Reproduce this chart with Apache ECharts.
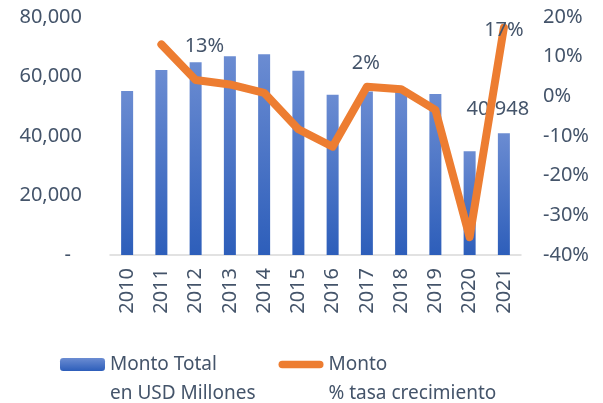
<!DOCTYPE html>
<html>
<head>
<meta charset="utf-8">
<script src="https://cdn.jsdelivr.net/npm/echarts@6/dist/echarts.min.js"></script>
<style>
  html, body { margin: 0; padding: 0; background: #fff; }
  #main { width: 603px; height: 403px; }
</style>
</head>
<body>
<div id="main"></div>
<script>
// datos del grafico
var anios = ['2010', '2011', '2012', '2013', '2014', '2015', '2016', '2017', '2018', '2019', '2020', '2021'];
var montos = [55100, 62200, 64800, 66800, 67500, 61900, 53900, 55000, 56100, 54100, 34900, 40948];
var tasa = [null, 13.1, 4.1, 3.0, 0.9, -8.3, -12.7, 2.4, 1.8, -3.4, -35.5, 17.3];

var colorTexto = '#44546A';
var fuente = 'Noto Sans';

// etiquetas que se ven en la imagen (indice -> desplazamiento)
var etiquetasLinea = { 1: [43, 2], 7: [-1, -24], 11: [0, 3] };

var datosLinea = tasa.map(function (v, i) {
  var off = etiquetasLinea[i];
  if (!off) return v;
  return {
    value: v,
    label: { show: true, position: 'inside', offset: off }
  };
});

var datosBarra = montos.map(function (v, i) {
  if (i !== montos.length - 1) return v;
  return { value: v, label: { show: true, position: 'top', distance: 5, offset: [-6, -9] } };
});

var nombreBarra = 'Monto Total\nen USD Millones';
var nombreLinea = 'Monto\n% tasa crecimiento';

var chart = echarts.init(document.getElementById('main'));

var option = {
  animation: false,
  grid: { left: 110, right: 82, top: 17, bottom: 148 },
  legend: {
    left: 55,
    top: 316,
    itemWidth: 45,
    itemHeight: 13,
    itemGap: 23,
    textStyle: {
      color: colorTexto, fontFamily: fuente, fontSize: 19, lineHeight: 29
    },
    // linea vacia arriba para que el icono quede a la altura de la primera linea
    formatter: function (name) { return '\n' + name; },
    data: [
      { name: nombreBarra },
      { name: nombreLinea, icon: 'path://M4,0 h40 a4,4 0 0 1 0,8 h-40 a4,4 0 0 1 0,-8 z' }
    ]
  },
  xAxis: {
    type: 'category',
    data: anios,
    axisLine: { lineStyle: { color: '#D9D9D9', width: 1.5 } },
    axisTick: { show: false },
    axisLabel: {
      rotate: 90, margin: 13, color: colorTexto,
      fontFamily: fuente, fontSize: 20
    }
  },
  yAxis: [{
    type: 'value',
    min: 0, max: 80000, interval: 20000,
    splitLine: { show: false },
    axisLine: { show: false },
    axisTick: { show: false },
    axisLabel: {
      margin: 28, color: colorTexto, fontFamily: fuente, fontSize: 20,
      formatter: function (v) {
        if (v === 0) return '{g|-}';
        return v.toLocaleString('en-US');
      },
      rich: { g: { padding: [0, 11, 0, 0], fontSize: 20, color: colorTexto, fontFamily: fuente } }
    }
  }, {
    type: 'value',
    position: 'right',
    min: -40, max: 20, interval: 10,
    splitLine: { show: false },
    axisLine: { show: false },
    axisTick: { show: false },
    axisLabel: {
      margin: 22, color: colorTexto, fontFamily: fuente, fontSize: 20,
      formatter: '{value}%'
    }
  }],
  series: [{
    name: nombreBarra,
    type: 'bar',
    barWidth: 12,
    data: datosBarra,
    itemStyle: {
      color: new echarts.graphic.LinearGradient(0, 0, 0, 1, [
        { offset: 0, color: '#6B8CD2' },
        { offset: 1, color: '#2D5EBA' }
      ])
    },
    label: {
      color: colorTexto, fontFamily: fuente, fontSize: 20,
      formatter: function (p) { return p.value.toLocaleString('en-US'); }
    }
  }, {
    name: nombreLinea,
    type: 'line',
    yAxisIndex: 1,
    data: datosLinea,
    symbol: 'circle',
    symbolSize: 1,
    itemStyle: { color: '#ED7D31' },
    lineStyle: { color: '#ED7D31', width: 8, cap: 'round', join: 'round' },
    label: {
      color: colorTexto, fontFamily: fuente, fontSize: 20,
      formatter: function (p) { return Math.round(p.value) + '%'; }
    }
  }]
};

chart.setOption(option);
</script>
</body>
</html>
